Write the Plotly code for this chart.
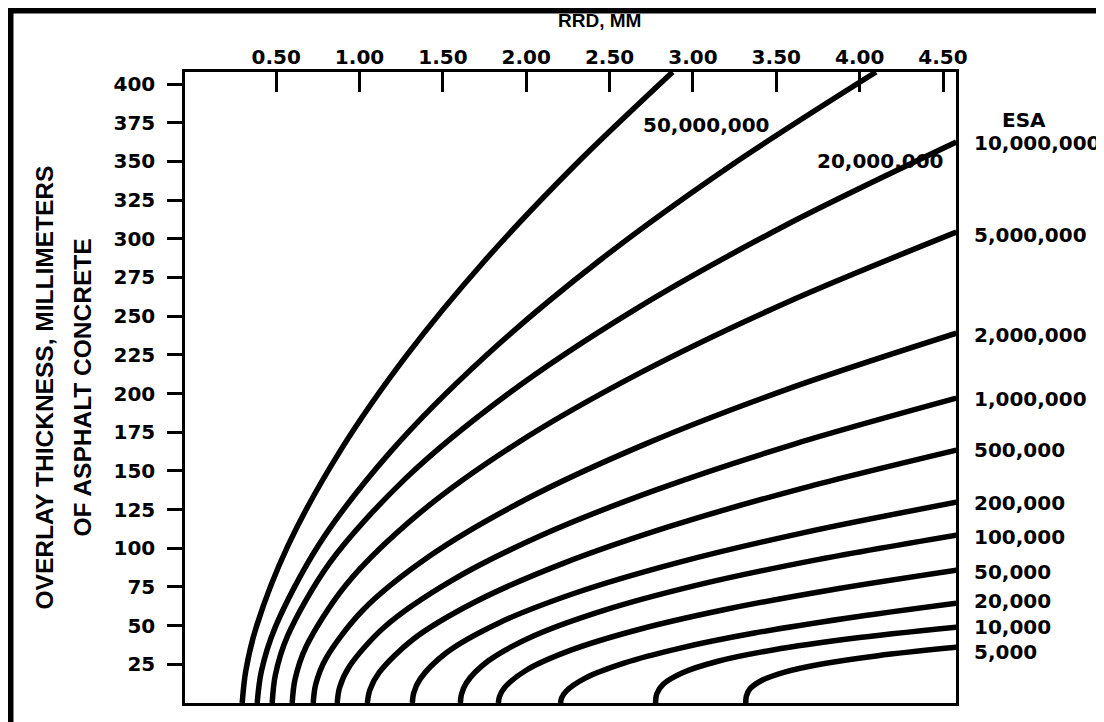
import plotly.graph_objects as go

# ---------------- data ----------------
esa = ["50,000,000", "20,000,000", "10,000,000", "5,000,000", "2,000,000",
       "1,000,000", "500,000", "200,000", "100,000", "50,000", "20,000",
       "10,000", "5,000"]

# RRD (mm) vs overlay thickness (mm) along each ESA curve
rrd_50m = [0.296, 0.317, 0.380, 0.572, 0.885, 1.280, 1.748, 2.283, 2.878]
thk_50m = [0, 20.4, 48.9, 102.0, 163.1, 224.3, 285.5, 346.6, 407.8]
rrd_20m = [0.386, 0.411, 0.494, 0.754, 1.192, 1.756, 2.434, 3.217, 4.098]
thk_20m = [0, 20.4, 48.9, 102.0, 163.1, 224.3, 285.5, 346.6, 407.8]
rrd_10m = [0.476, 0.495, 0.569, 0.821, 1.275, 1.886, 2.644, 3.545, 4.58]
thk_10m = [0, 18.1, 43.5, 90.6, 145.0, 199.4, 253.8, 308.1, 362.5]
rrd_5m = [0.596, 0.613, 0.680, 0.917, 1.349, 1.938, 2.677, 3.559, 4.58]
thk_5m = [0, 15.2, 36.5, 76.1, 121.7, 167.4, 213.0, 258.7, 304.3]
rrd_2m = [0.722, 0.737, 0.798, 1.018, 1.429, 1.996, 2.713, 3.576, 4.58]
thk_2m = [0, 12.0, 28.7, 59.8, 95.6, 131.5, 167.3, 203.2, 239.0]
rrd_1m = [0.866, 0.880, 0.939, 1.151, 1.547, 2.092, 2.783, 3.613, 4.58]
thk_1m = [0, 9.9, 23.6, 49.3, 78.8, 108.4, 137.9, 167.5, 197.0]
rrd_500k = [1.047, 1.061, 1.117, 1.318, 1.695, 2.214, 2.870, 3.660, 4.58]
thk_500k = [0, 8.2, 19.6, 40.9, 65.4, 89.9, 114.4, 138.9, 163.4]
rrd_200k = [1.317, 1.325, 1.364, 1.521, 1.839, 2.303, 2.915, 3.673, 4.58]
thk_200k = [0, 6.5, 15.6, 32.5, 51.9, 71.4, 90.9, 110.3, 129.8]
rrd_100k = [1.605, 1.611, 1.641, 1.771, 2.046, 2.461, 3.018, 3.724, 4.58]
thk_100k = [0, 5.4, 13.0, 27.1, 43.4, 59.7, 76.0, 92.2, 108.5]
rrd_50k = [1.833, 1.840, 1.873, 2.005, 2.272, 2.663, 3.178, 3.816, 4.58]
thk_50k = [0, 4.3, 10.3, 21.5, 34.3, 47.2, 60.1, 72.9, 85.8]
rrd_20k = [2.206, 2.212, 2.240, 2.354, 2.586, 2.924, 3.368, 3.920, 4.58]
thk_20k = [0, 3.2, 7.7, 16.1, 25.8, 35.5, 45.2, 54.8, 64.5]
rrd_10k = [2.776, 2.783, 2.823, 2.938, 3.150, 3.480, 3.951, 4.58]
thk_10k = [0, 5.9, 12.3, 19.6, 27.0, 34.3, 41.7, 49.0]
rrd_5k = [3.317, 3.320, 3.341, 3.409, 3.545, 3.772, 4.110, 4.58]
thk_5k = [0, 4.3, 9.0, 14.4, 19.8, 25.2, 30.6, 36.0]

x_ticks = [0.5, 1.0, 1.5, 2.0, 2.5, 3.0, 3.5, 4.0, 4.5]
y_ticks = [25, 50, 75, 100, 125, 150, 175, 200, 225, 250, 275, 300,
           325, 350, 375, 400]

# label anchor positions (thickness, mm) for ESA labels right of the chart
right_label_y = [361.8, 302.4, 237.7, 196.3, 163.4, 129.1, 107.1, 84.5,
                 65.7, 48.9, 32.8]
inner_label_pos = [(3.083, 373.5), (4.128, 350.0)]

curves = [(rrd_50m, thk_50m), (rrd_20m, thk_20m), (rrd_10m, thk_10m),
          (rrd_5m, thk_5m), (rrd_2m, thk_2m), (rrd_1m, thk_1m),
          (rrd_500k, thk_500k), (rrd_200k, thk_200k), (rrd_100k, thk_100k),
          (rrd_50k, thk_50k), (rrd_20k, thk_20k), (rrd_10k, thk_10k),
          (rrd_5k, thk_5k)]

# ---------------- figure ----------------
fig = go.Figure()
for (xs, ys), name in zip(curves, esa):
    fig.add_trace(go.Scatter(
        x=xs, y=ys, mode="lines", name=name, showlegend=False,
        line=dict(color="black", width=5.5, shape="spline", smoothing=0.9),
        hoverinfo="skip"))

NUM_FONT = dict(family="DejaVu Sans", size=20, color="black", weight="bold")
TITLE_FONT = dict(family="Liberation Sans", size=24.5, color="black",
                  weight="bold")

annotations = []
for (px, py), name in zip(inner_label_pos, esa[:2]):
    annotations.append(dict(x=px, y=py, xref="x", yref="y", text=name,
                            showarrow=False, font=NUM_FONT,
                            xanchor="center", yanchor="middle"))
for py, name in zip(right_label_y, esa[2:]):
    annotations.append(dict(x=1.021, y=py, xref="paper", yref="y", text=name,
                            showarrow=False, font=NUM_FONT,
                            xanchor="left", yanchor="middle"))
annotations.append(dict(x=1.057, y=377.0, xref="paper", yref="y", text="ESA",
                        showarrow=False, font=NUM_FONT,
                        xanchor="left", yanchor="middle"))
annotations.append(dict(x=0.538, y=1.0, xref="paper", yref="paper",
                        yshift=52, text="RRD, MM", showarrow=False,
                        font=dict(family="Liberation Sans", size=19,
                                  color="black", weight="bold"),
                        xanchor="center", yanchor="middle"))
annotations.append(dict(x=-0.1816, y=0.5, xref="paper", yref="paper",
                        text="OVERLAY THICKNESS, MILLIMETERS",
                        textangle=-90, showarrow=False, font=TITLE_FONT,
                        xanchor="center", yanchor="middle"))
annotations.append(dict(x=-0.1323, y=0.5, xref="paper", yref="paper",
                        text="OF ASPHALT CONCRETE",
                        textangle=-90, showarrow=False, font=TITLE_FONT,
                        xanchor="center", yanchor="middle"))

# page body has an 8px margin, so the figure is sized to fit the window
fig.update_layout(
    width=1096, height=714,
    margin=dict(l=177, r=148, t=64, b=19, pad=0),
    paper_bgcolor="white", plot_bgcolor="white",
    annotations=annotations,
    shapes=[
        dict(type="line", xref="paper", yref="paper",
             x0=-0.235, x1=1.25, y0=1.0982, y1=1.0982,
             line=dict(color="black", width=7)),
        dict(type="line", xref="paper", yref="paper",
             x0=-0.2270, x1=-0.2270, y0=1.104, y1=-0.1,
             line=dict(color="black", width=7)),
    ],
)

fig.update_xaxes(
    side="top", range=[-0.047, 4.578], tickvals=x_ticks,
    ticktext=[f"{v:.2f}" for v in x_ticks],
    ticks="inside", ticklen=20, tickwidth=2.5, tickcolor="black",
    showline=True, linewidth=2.5, linecolor="black", mirror=True,
    showgrid=False, zeroline=False, tickfont=NUM_FONT,
    ticklabelstandoff=-3,
)
fig.update_yaxes(
    range=[0, 407.8], tickvals=y_ticks,
    ticks="outside", ticklen=15, tickwidth=2.5, tickcolor="black",
    showline=True, linewidth=2.5, linecolor="black", mirror=True,
    showgrid=False, zeroline=False, tickfont=NUM_FONT,
    ticklabelstandoff=8,
)

fig.write_html("out.html")
